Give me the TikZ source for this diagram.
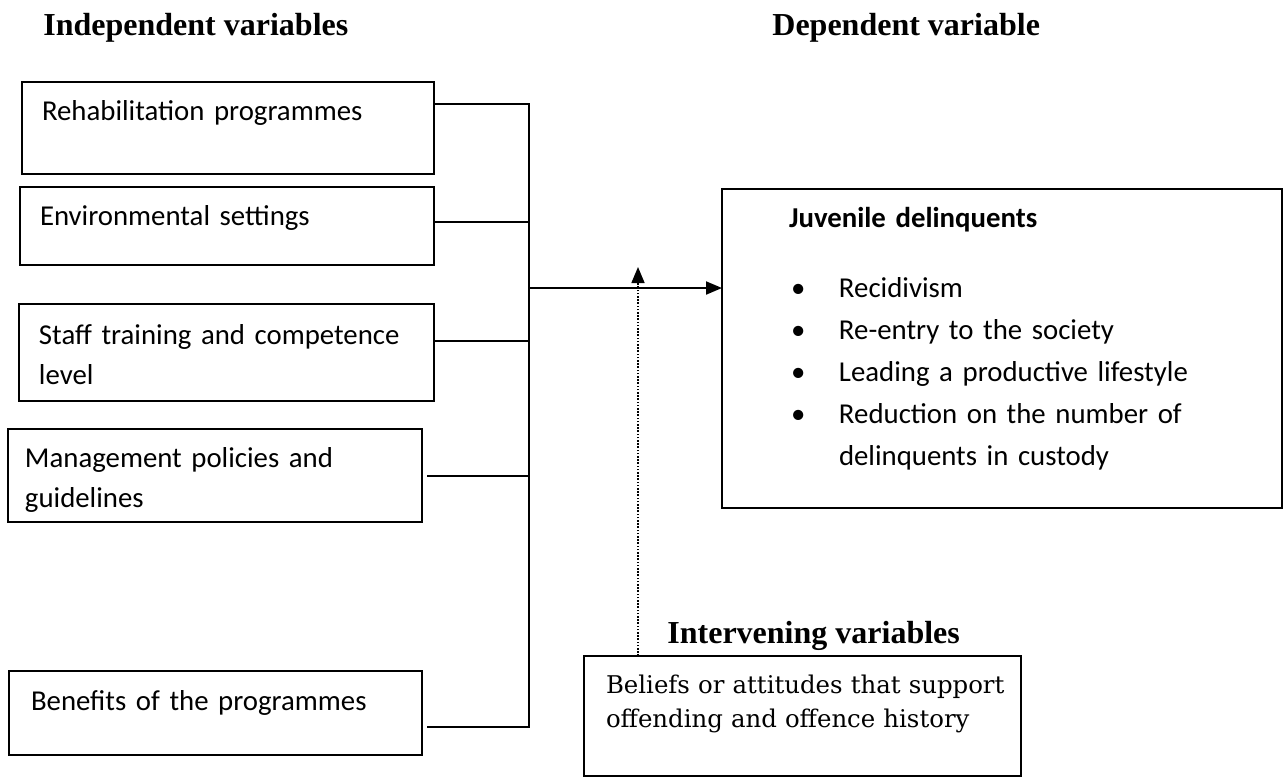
\documentclass[tikz,border=0pt]{standalone}
\usepackage{fontspec}
\setmainfont{Carlito}
\newfontfamily\headfont{Liberation Serif}
\newfontfamily\notefont{DejaVu Serif}
\usetikzlibrary{arrows.meta}
\tikzset{%
  >={Triangle[width=6.5pt,length=8pt]},
  % Specifications for style of nodes:
            base/.style = {rectangle, draw=black, line width=1pt, anchor=north west,
                           outer sep=0pt, inner ysep=0pt, align=left,
                           font=\fontsize{14.4}{20}\selectfont},
          varbox/.style = {base, inner xsep=10pt},
          depbox/.style = {base, inner xsep=33.5pt, font=\fontsize{14.4}{21}\selectfont},
          intbox/.style = {base, inner xsep=11pt, font=\notefont\fontsize{12.2}{17}\selectfont},
        vartitle/.style = {anchor=base west, inner sep=0pt,
                           font=\headfont\bfseries\fontsize{16}{19}\selectfont},
            link/.style = {line width=1pt},
         dotlink/.style = {line width=0.8pt, dash pattern=on 0.8pt off 0.8pt},
}
\newcommand{\bitem}{\hspace*{1pt}\makebox[24pt][l]{\textbullet}}

\begin{document}
\begin{tikzpicture}[x=0.5pt, y=-0.5pt]
  \useasboundingbox (0,0) rectangle (1288,778);
  % Headings
  \node[vartitle] (indeptitle) at (43,35) {Independent variables};
  \node[vartitle] (deptitle)   at (772,35) {Dependent variable};
  \node[vartitle] (inttitle)   at (667,643) {Intervening variables};

  % Specification of nodes (position, etc.)
  \node (rehab) [varbox, text width=186pt, text height=19pt, text depth=27pt] at (22,82)
        {Rehabilitation programmes};
  \node (env)   [varbox, text width=187pt, text height=19pt, text depth=20pt] at (20,187)
        {Environmental settings};
  \node (staff) [varbox, text width=187.5pt, text height=20pt, text depth=28.5pt] at (19,304)
        {Staff training and competence\\level};
  \node (mgmt)  [varbox, inner xsep=8.5pt, text width=190pt, text height=19pt, text depth=27.5pt] at (8,429)
        {Management policies and\\guidelines};
  \node (benef) [varbox, inner xsep=11pt, text width=184.5pt, text height=19.5pt, text depth=22.5pt] at (9,671)
        {Benefits of the programmes};

  \node (juv)   [depbox, text width=213pt, text height=19pt, text depth=140.5pt] at (722,189)
        {\textbf{Juvenile delinquents}\\[14pt]
         \bitem Recidivism\\
         \bitem Re-entry to the society\\
         \bitem Leading a productive lifestyle\\
         \bitem Reduction on the number of\\
         \hspace*{25pt}delinquents in custody};

  \node (belief) [intbox, text width=196.5pt, text height=18.5pt, text depth=41.5pt] at (584,656)
        {\mbox{Beliefs or attitudes that support}\\\mbox{offending and offence history}};

  \coordinate (hub) at (529,288);
  \coordinate (tip) at (638,267);

  \draw[link]    ([yshift=-11pt]rehab.north east) -| (hub);
  \draw[link]    ([yshift=-17.5pt]env.north east) coordinate (e2) -- (e2 -| hub);
  \draw[link]    ([yshift=-18.5pt]staff.north east) coordinate (e3) -- (e3 -| hub);
  \draw[link]    ([xshift=2.5pt,yshift=-23.5pt]mgmt.north east) coordinate (e4) -- (e4 -| hub);
  \draw[link]    ([xshift=2.5pt,yshift=-28pt]benef.north east) -| (hub);
  \draw[link,->] (hub) -- (hub -| juv.west);
  \draw[dotlink,->] (belief.north -| tip) -- (tip);

\end{tikzpicture}
\end{document}
